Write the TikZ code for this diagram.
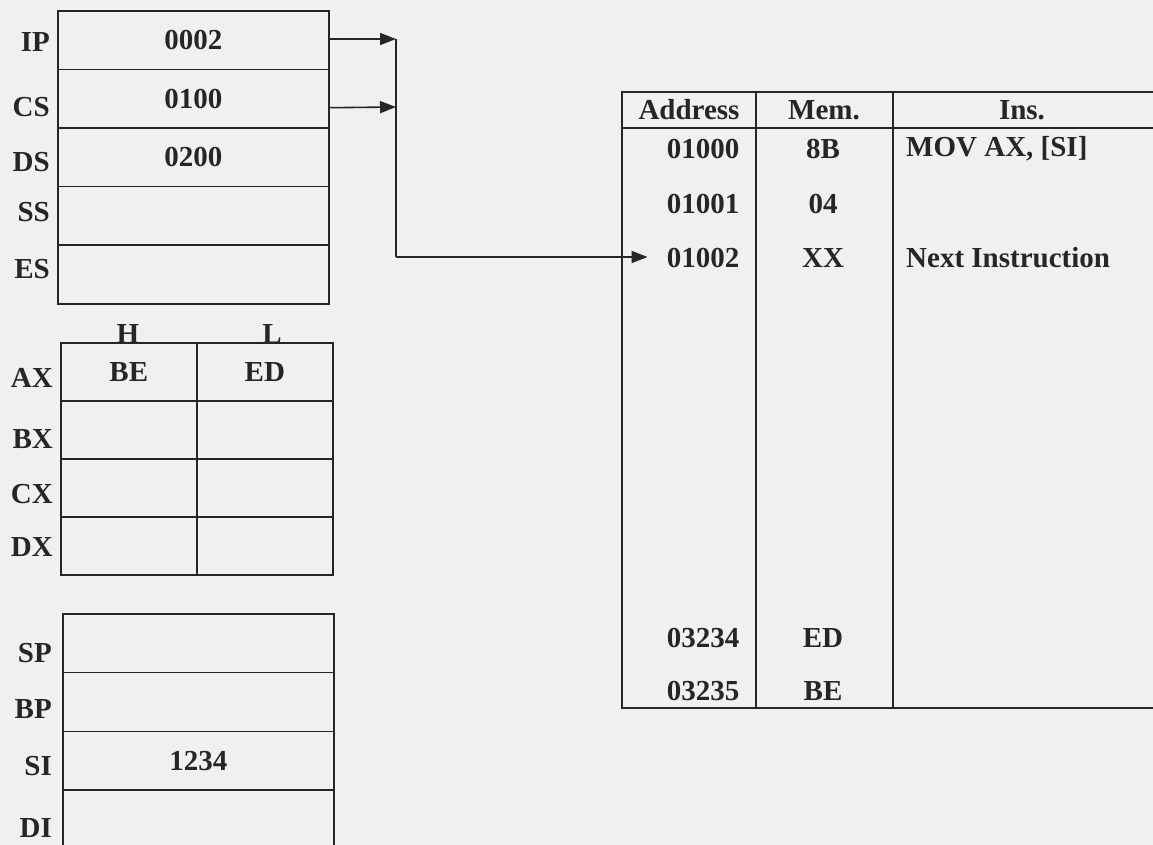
\documentclass[tikz,border=0pt]{standalone}
\usepackage{fontspec}
\setmainfont{Liberation Serif}
\usetikzlibrary{calc,arrows.meta}
\definecolor{paper}{RGB}{240,240,243}
\definecolor{ink}{RGB}{38,38,38}
\begin{document}
\begin{tikzpicture}[x=1pt,y=-1pt,
  every node/.style={font=\fontsize{29}{34}\selectfont\bfseries, text=ink},
  cell/.style={draw=ink, line width=1.6pt, inner sep=0pt, anchor=north west, text depth=-3pt},
  seg/.style={cell, minimum width=271pt, minimum height=58.6pt},
  gp/.style={cell, minimum width=136pt, minimum height=58pt},
  idx/.style={cell, minimum width=271pt, minimum height=58.8pt},
  lbl/.style={anchor=east, inner sep=0pt},
  txt/.style={inner sep=0pt},
  arr/.style={draw=ink, line width=1.6pt, -{Triangle[length=16pt,width=12pt]}},
  wire/.style={draw=ink, line width=1.6pt}]
\fill[paper] (0,0) rectangle (1153,845);
\useasboundingbox (0,0) rectangle (1153,845);
\begin{scope}
\clip (0,0) rectangle (1153,845);
% segment registers
\node[seg] (ip) at (57,10) {0002};
\node[seg] (cs) at (57,68.6) {0100};
\node[seg] (ds) at (57,127.2) {0200};
\node[seg] (ss) at (57,185.8) {};
\node[seg] (es) at (57,244.4) {};
\node[lbl] (lip) at (50,42) {IP};
\node[lbl] (lcs) at (50,107) {CS};
\node[lbl] (lds) at (50,162) {DS};
\node[lbl] (lss) at (50,212) {SS};
\node[lbl] (les) at (50,269) {ES};
% general registers
\node[gp] (axh) at (60,342) {BE};
\node[gp] (axl) at (196,342) {ED};
\node[gp] (bxh) at (60,400) {};
\node[gp] (bxl) at (196,400) {};
\node[gp] (cxh) at (60,458) {};
\node[gp] (cxl) at (196,458) {};
\node[gp] (dxh) at (60,516) {};
\node[gp] (dxl) at (196,516) {};
\node[txt, anchor=south] (hl) at (128,344) {H};
\node[txt, anchor=south] (ll) at (272,344) {L};
\node[lbl] (lax) at (53,378) {AX};
\node[lbl] (lbx) at (53,439) {BX};
\node[lbl] (lcx) at (53,494) {CX};
\node[lbl] (ldx) at (53,547) {DX};
% index registers
\node[idx] (sp) at (62,613) {};
\node[idx] (bp) at (62,671.8) {};
\node[idx] (si) at (62,730.6) {1234};
\node[idx] (di) at (62,789.4) {};
\node[lbl] (lsp) at (52,653) {SP};
\node[lbl] (lbp) at (52,709) {BP};
\node[lbl] (lsi) at (52,766) {SI};
\node[lbl] (ldi) at (52,828) {DI};
% memory table
\draw[wire] (1170,92) -- (622,92) -- (622,708) -- (1170,708);
\draw[wire] (622,128) -- (1170,128);
\draw[wire] (756,92) -- (756,708);
\draw[wire] (893,92) -- (893,708);
\node[txt] (ha) at (689,110) {Address};
\node[txt] (hm) at (824,110) {Mem.};
\node[txt] (hi) at (1022,110) {Ins.};
\node[txt] (a1) at (703,149) {01000};
\node[txt] (a2) at (703,204) {01001};
\node[txt] (a3) at (703,258) {01002};
\node[txt] (a4) at (703,638) {03234};
\node[txt] (a5) at (703,691) {03235};
\node[txt] (m1) at (823,149) {8B};
\node[txt] (m2) at (823,204) {04};
\node[txt] (m3) at (823,258) {XX};
\node[txt] (m4) at (823,638) {ED};
\node[txt] (m5) at (823,691) {BE};
\node[txt, anchor=west] (i1) at (906,149) {MOV AX, [SI]};
\node[txt, anchor=west] (i3) at (906,258) {Next Instruction};
% connectors
\coordinate (j1) at (396,39);
\coordinate (j2) at (396,257);
\draw[arr] (ip.east |- j1) -- (j1);
\draw[arr] ($(cs.east)+(0,9)$) -- ($(j1)+(0,68)$);
\draw[wire] (j1) -- (j2);
\draw[arr] (j2) -- ($(a3.west)+(-19,-1)$);
\end{scope}
\end{tikzpicture}
\end{document}
